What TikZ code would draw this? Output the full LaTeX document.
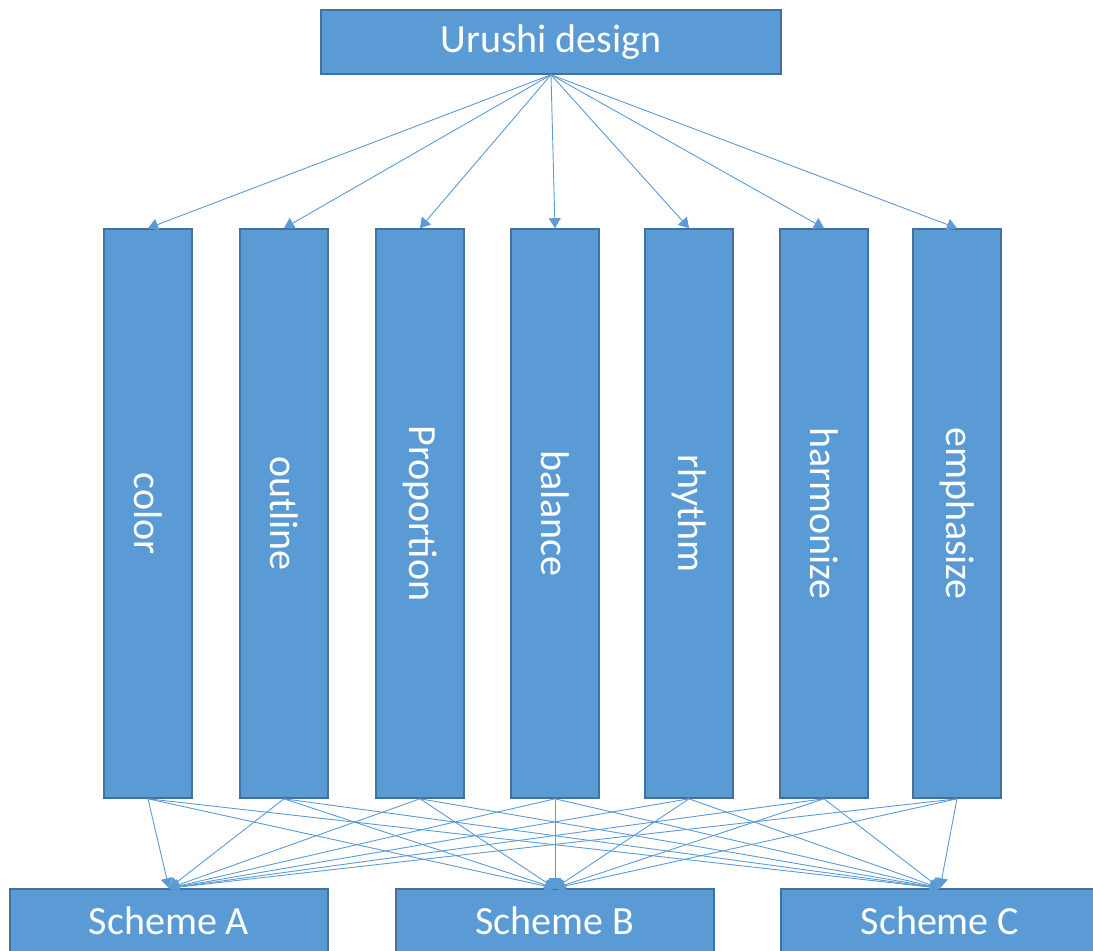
\documentclass[tikz,border=0pt]{standalone}
\usepackage{fontspec}
\setmainfont{Carlito}
\usetikzlibrary{arrows.meta}
\definecolor{boxblue}{HTML}{5B9BD5}
\definecolor{edgeblue}{HTML}{41719C}
\tikzset{
	box/.style={draw=edgeblue, line width=1.6pt, fill=boxblue, text=white, inner sep=0pt,
		font=\fontsize{40}{48}\selectfont},
	bar/.style={box, rotate=-90, minimum width=569pt, minimum height=88pt},
	link/.style={draw=boxblue, line width=0.9pt, -{Triangle[width=12pt,length=10pt]}}
}

\begin{document}
\begin{tikzpicture}[x=1pt,y=1pt]
	\useasboundingbox (0,0) rectangle (1093,951);
	\node [box, minimum width=460pt, minimum height=64pt] (design) at (551,909) {Urushi design};
	\node [bar] (color) at (148,437.5) {color};
	\node [bar] (outline) at (284,437.5) {outline};
	\node [bar] (proportion) at (420,437.5) {Proportion};
	\node [bar] (balance) at (555,437.5) {balance};
	\node [bar] (rhythm) at (689,437.5) {rhythm};
	\node [bar] (harmonize) at (824,437.5) {harmonize};
	\node [bar] (emphasize) at (957,437.5) {emphasize};
	\node [box, minimum width=318pt, minimum height=64pt] (schemeA) at (169,30) {Scheme A};
	\node [box, minimum width=318pt, minimum height=64pt] (schemeB) at (555,30) {Scheme B};
	\node [box, minimum width=318pt, minimum height=64pt] (schemeC) at (940,30) {Scheme C};
	\foreach \n in {color,outline,proportion,balance,rhythm,harmonize,emphasize}
		\draw [link] (design.south) to (\n.west);
	\foreach \n in {color,outline,proportion,balance,rhythm,harmonize,emphasize}
		\foreach \s in {schemeA,schemeB,schemeC}
			\draw [link] (\n.east) to (\s.north);
\end{tikzpicture}
\end{document}
